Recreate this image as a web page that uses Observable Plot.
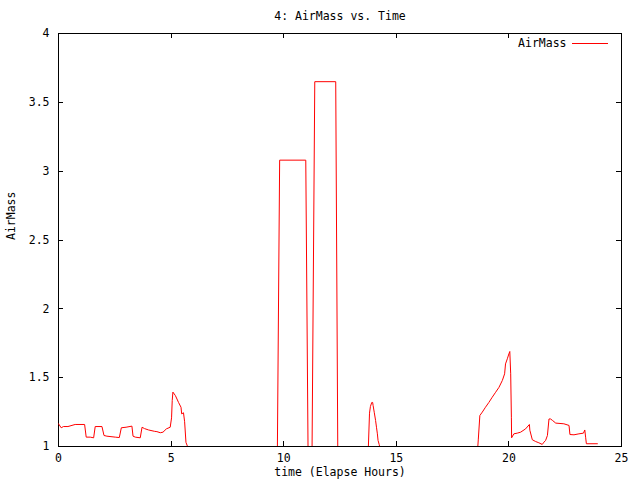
<!DOCTYPE html>
<html>
<head>
<meta charset="utf-8">
<script src="https://cdn.jsdelivr.net/npm/d3@7"></script>
<script src="https://cdn.jsdelivr.net/npm/@observablehq/plot@0.6"></script>
<style>
  html, body { margin: 0; padding: 0; background: #fff; }
  svg { display: block; }
</style>
</head>
<body>
<div id="chart"></div>
<script>
const chartTitle = "4: AirMass vs. Time";
const xLabel = "time (Elapse Hours)";
const yLabel = "AirMass";
const seriesName = "AirMass";

const xTicks = [0, 5, 10, 15, 20, 25];
const yTicks = [1, 1.5, 2, 2.5, 3, 3.5, 4];

// elapsed hours (null airmass = gap, object below horizon)
const hours = [
  0, 0.12, 0.22, 0.42, 0.74, 1.16, 1.23, 1.41, 1.56, 1.63, 1.93, 2.02, 2.15, 2.52, 2.70,
  2.79, 3.00, 3.26, 3.31, 3.41, 3.63, 3.71, 3.82, 4.00, 4.27, 4.37, 4.52, 4.64, 4.79, 4.96,
  5.02, 5.05, 5.08, 5.19, 5.33, 5.44, 5.47, 5.55, 5.60, 5.66, 5.73,
  7.7,
  9.72, 9.82, 10.98, 11.08,
  11.17,
  11.26, 11.38, 12.31, 12.40,
  13.1,
  13.76, 13.81, 13.85, 13.91, 13.95, 13.97, 14.02, 14.08, 14.12, 14.16, 14.19, 14.24, 14.26,
  16.5,
  18.62, 18.64, 18.71, 18.82, 18.96, 19.11, 19.26, 19.41, 19.56, 19.71, 19.81, 19.85, 19.93,
  20.00, 20.04, 20.08, 20.11, 20.12, 20.22, 20.37, 20.52, 20.74, 20.91, 20.93, 21.04, 21.19,
  21.33, 21.48, 21.56, 21.63, 21.71, 21.78, 21.85, 21.93, 22.08, 22.44, 22.67, 22.71, 22.89,
  23.11, 23.31, 23.37, 23.41, 23.44, 23.93
];
const airmass = [
  1.165, 1.136, 1.145, 1.145, 1.16, 1.16, 1.068, 1.068, 1.063, 1.145, 1.145, 1.08, 1.075, 1.068, 1.065,
  1.136, 1.14, 1.148, 1.075, 1.068, 1.063, 1.14, 1.13, 1.12, 1.11, 1.108, 1.10, 1.104, 1.128, 1.14,
  1.208, 1.334, 1.395, 1.37, 1.32, 1.285, 1.237, 1.245, 1.18, 1.03, 1.0,
  null,
  1.0, 3.08, 3.08, 1.0,
  null,
  1.0, 3.65, 3.65, 1.0,
  null,
  1.0, 1.242, 1.29, 1.32, 1.32, 1.298, 1.249, 1.189, 1.14, 1.092, 1.044, 1.015, 1.0,
  null,
  1.0, 1.048, 1.225, 1.25, 1.285, 1.32, 1.358, 1.394, 1.43, 1.48, 1.528, 1.60, 1.637,
  1.673, 1.69, 1.528, 1.213, 1.063, 1.092, 1.097, 1.104, 1.128, 1.16, 1.118, 1.049, 1.036,
  1.027, 1.015, 1.032, 1.044, 1.08, 1.20, 1.20, 1.19, 1.17, 1.165, 1.153, 1.087, 1.085,
  1.092, 1.097, 1.12, 1.063, 1.02, 1.02
];

const data = hours.map((h, i) => ({hours: h, airmass: airmass[i]}));

const W = 640, H = 480;
const mL = 58, mR = 19, mT = 33, mB = 34;
const frameW = W - mL - mR, frameH = H - mT - mB;
const tickLen = 5;
const font = "'DejaVu Sans Mono', monospace";

const chart = Plot.plot({
  width: W,
  height: H,
  marginLeft: mL,
  marginRight: mR,
  marginTop: mT,
  marginBottom: mB,
  style: {fontFamily: font, fontSize: "11.5px", background: "#fff", color: "#000"},
  x: {domain: [0, 25]},
  y: {domain: [1, 4]},
  marks: [
    Plot.frame({stroke: "#000", strokeWidth: 1, shapeRendering: "crispEdges"}),
    // inward mirrored ticks
    Plot.tickX(xTicks, {insetTop: frameH - tickLen, stroke: "#000", shapeRendering: "crispEdges"}),
    Plot.tickX(xTicks, {insetBottom: frameH - tickLen, stroke: "#000", shapeRendering: "crispEdges"}),
    Plot.tickY(yTicks, {insetRight: frameW - tickLen, stroke: "#000", shapeRendering: "crispEdges"}),
    Plot.tickY(yTicks, {insetLeft: frameW - tickLen, stroke: "#000", shapeRendering: "crispEdges"}),
    Plot.axisX({ticks: xTicks, tickSize: 0, tickPadding: 7, label: null, tickFormat: d => String(d)}),
    Plot.axisY({ticks: yTicks, tickSize: 0, tickPadding: 9, label: null, tickFormat: d => String(d)}),
    Plot.lineY(data, {
      x: "hours", y: "airmass", stroke: "#ff0000", strokeWidth: 1,
      clip: true, curve: "linear"
    }),
    Plot.text([chartTitle], {frameAnchor: "top", lineAnchor: "middle", dy: -17, fill: "#000"}),
    Plot.text([xLabel], {frameAnchor: "bottom", lineAnchor: "middle", dy: 26, fill: "#000"}),
    Plot.text([yLabel], {frameAnchor: "left", lineAnchor: "middle", dx: -47, rotate: -90, fill: "#000"}),
    Plot.text([seriesName], {frameAnchor: "top-right", lineAnchor: "middle", dx: -55, dy: 10, textAnchor: "end", fill: "#000"}),
    Plot.vector([seriesName], {
      frameAnchor: "top-right", dx: -49, dy: 10, length: 35, rotate: 90, anchor: "start",
      stroke: "#ff0000", strokeWidth: 1, shapeRendering: "crispEdges",
      shape: {draw(context, l) { context.moveTo(0, 0); context.lineTo(0, -l); }}
    })
  ]
});

document.getElementById("chart").appendChild(chart);
</script>
</body>
</html>
